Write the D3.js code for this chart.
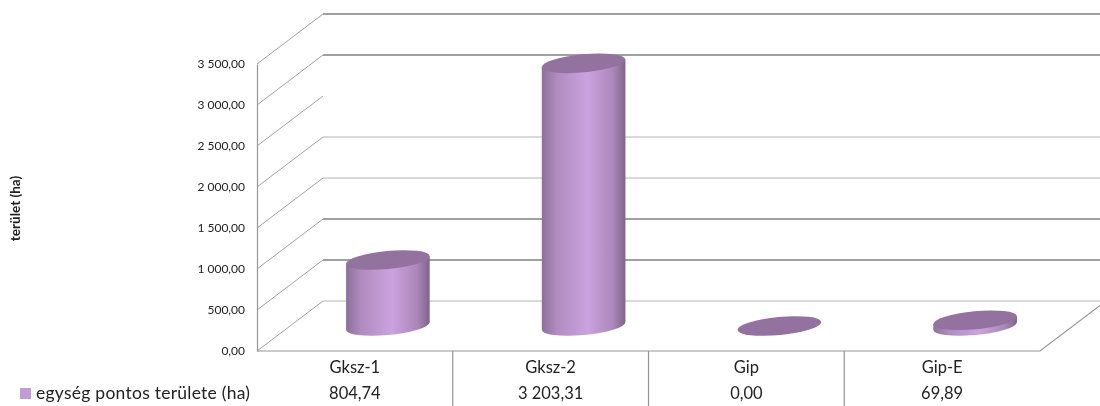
<!DOCTYPE html>
<html>
<head>
<meta charset="utf-8">
<script src="https://cdn.jsdelivr.net/npm/d3@7"></script>
<style>
  html, body { margin: 0; padding: 0; background: #fff; }
  svg { display: block; filter: blur(0.5px); }
  text { font-family: Lato, sans-serif; fill: #222; }
</style>
</head>
<body>
<svg id="chart" width="1100" height="406"></svg>
<script>
const categories = ["Gksz-1", "Gksz-2", "Gip", "Gip-E"];
const values = [804.74, 3203.31, 0, 69.89];
const yTicks = [0, 500, 1000, 1500, 2000, 2500, 3000, 3500];
const heavyTicks = [500, 1000, 3000, 3500];
const missingBackLines = [2500];
const seriesName = "egység pontos területe (ha)";
const yTitle = "terület (ha)";

const width = 1100, height = 406;
const plot = { left: 257, right: 1040, top: 64, bottom: 351 };
const depth = { x: 66, y: -50 };
const cyl = { rx: 42, ry: 9, tilt: -5.5 };

const huLocale = d3.formatLocale({ decimal: ",", thousands: " ", grouping: [3], currency: ["", " Ft"] });
const fmt = huLocale.format(",.2f");

const x = d3.scaleBand().domain(categories).range([plot.left, plot.right]);
const y = d3.scaleLinear().domain([0, 3500]).range([plot.bottom, plot.top]);

const svg = d3.select("#chart");

const grad = svg.append("defs").append("linearGradient")
  .attr("id", "side").attr("x1", 0).attr("x2", 1).attr("y1", 0).attr("y2", 0);
grad.append("stop").attr("offset", "0%").attr("stop-color", "#8d6f99");
grad.append("stop").attr("offset", "18%").attr("stop-color", "#b08cc0");
grad.append("stop").attr("offset", "55%").attr("stop-color", "#cba2de");
grad.append("stop").attr("offset", "85%").attr("stop-color", "#ab87ba");
grad.append("stop").attr("offset", "100%").attr("stop-color", "#7f6389");

// walls
const walls = svg.append("g").attr("fill", "none");
yTicks.forEach(t => {
  const heavy = heavyTicks.includes(t);
  walls.append("line")
    .attr("x1", plot.left).attr("y1", y(t))
    .attr("x2", plot.left + depth.x).attr("y2", y(t) + depth.y)
    .attr("stroke", "#a0a0a0").attr("stroke-width", 1);
  if (!missingBackLines.includes(t)) {
    walls.append("line")
      .attr("x1", plot.left + depth.x).attr("y1", y(t) + depth.y)
      .attr("x2", width).attr("y2", y(t) + depth.y)
      .attr("stroke", heavy ? "#808080" : "#b4b4b4")
      .attr("stroke-width", heavy ? 1.6 : 1);
  }
});
// floor
walls.append("path")
  .attr("d", `M${plot.left},${plot.bottom}H${plot.right}l${depth.x},${depth.y}`)
  .attr("stroke", "#969696").attr("stroke-width", 1.2);

// y axis
const yAxis = svg.append("g")
  .attr("transform", `translate(${plot.left},0)`)
  .call(d3.axisLeft(y).tickValues(yTicks).tickSize(0).tickPadding(12).tickFormat(fmt));
yAxis.select(".domain").attr("stroke", "#969696").attr("stroke-width", 1.2);
yAxis.selectAll("text").attr("font-size", 12).style("font-family", "Lato, sans-serif").style("fill", "#222");

svg.append("text")
  .attr("transform", "translate(20,208.5) rotate(-90)")
  .attr("text-anchor", "middle")
  .attr("font-size", 13.5).attr("font-weight", "bold")
  .text(yTitle);

// cylinders
const sin = Math.sin(cyl.tilt * Math.PI / 180), cos = Math.cos(cyl.tilt * Math.PI / 180);
const halfW = Math.sqrt(cyl.rx * cyl.rx * cos * cos + cyl.ry * cyl.ry * sin * sin);
const edgeY = (cyl.rx * cyl.rx - cyl.ry * cyl.ry) * sin * cos / halfW;

const bars = svg.append("g").selectAll("g")
  .data(categories.map((c, i) => ({ c, v: values[i] })))
  .join("g")
  .attr("transform", d => `translate(${x(d.c) + x.bandwidth() / 2 + depth.x / 2},${depth.y / 2})`);

bars.filter(d => d.v > 0).append("path")
  .attr("fill", "url(#side)")
  .attr("d", d => `M${-halfW},${y(d.v) - edgeY}` +
    `L${-halfW},${y(0) - edgeY}` +
    `A${cyl.rx},${cyl.ry} ${cyl.tilt} 0 0 ${halfW},${y(0) + edgeY}` +
    `L${halfW},${y(d.v) + edgeY}Z`);

bars.append("ellipse")
  .attr("rx", cyl.rx).attr("ry", cyl.ry)
  .attr("fill", "#94729f")
  .attr("transform", d => `translate(0,${y(d.v)}) rotate(${cyl.tilt})`);

// data table
const table = svg.append("g");
categories.slice(0, -1).forEach(c => {
  table.append("line")
    .attr("x1", x(c) + x.bandwidth()).attr("x2", x(c) + x.bandwidth())
    .attr("y1", plot.bottom).attr("y2", height)
    .attr("stroke", "#969696").attr("stroke-width", 1.2);
});
categories.forEach((c, i) => {
  const cx = x(c) + x.bandwidth() / 2;
  table.append("text").attr("x", cx).attr("y", 373)
    .attr("text-anchor", "middle").attr("font-size", 16.5).text(c);
  table.append("text").attr("x", cx).attr("y", 399)
    .attr("text-anchor", "middle").attr("font-size", 16.5).text(fmt(values[i]));
});
table.append("rect").attr("x", 20).attr("y", 388).attr("width", 11).attr("height", 11).attr("fill", "#c19bd4");
table.append("text").attr("x", 36).attr("y", 399).attr("font-size", 17.5)
  .attr("letter-spacing", 0.25).text(seriesName);
</script>
</body>
</html>
